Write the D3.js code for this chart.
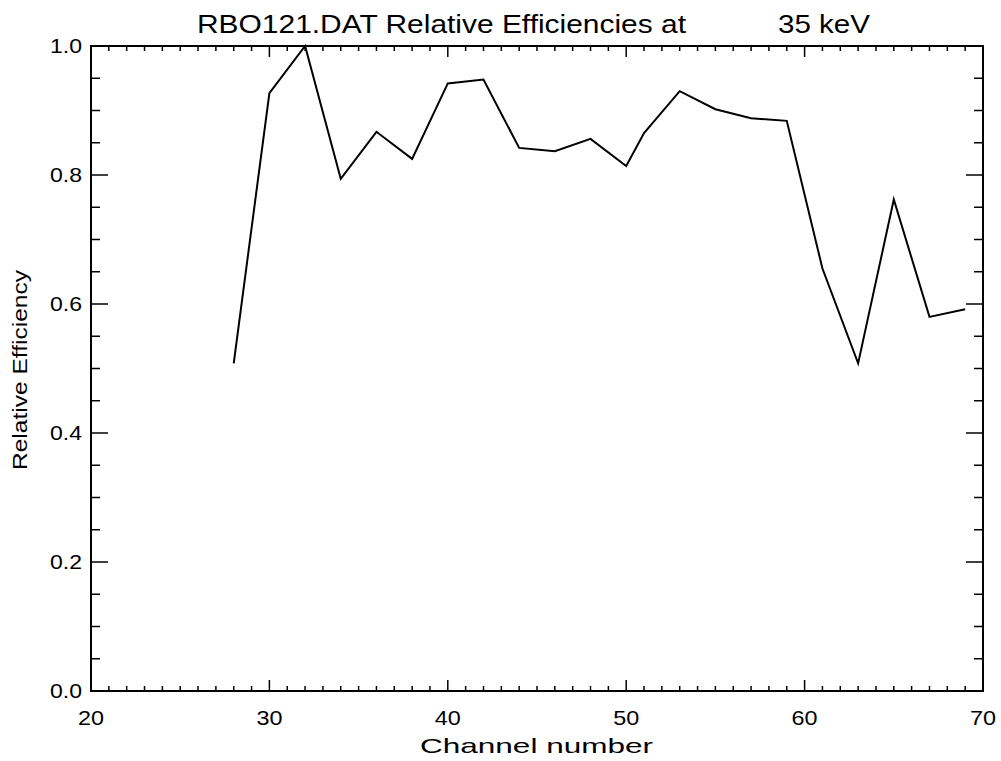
<!DOCTYPE html>
<html>
<head>
<meta charset="utf-8">
<script src="https://cdn.jsdelivr.net/npm/d3@7"></script>
<style>
  html, body { margin: 0; padding: 0; background: #fff; }
  svg { display: block; }
  text { font-family: "Liberation Sans", Arial, sans-serif; fill: #000; }
</style>
</head>
<body>
<svg id="chart" width="1001" height="761"></svg>
<script>
// Relative efficiency per detector channel at 35 keV (file RBO121.DAT)
const channels = [28, 30, 32, 34, 36, 38, 40, 42, 44, 46, 48, 50, 51, 53, 55, 57, 59, 61, 63, 65, 67, 69];
const efficiency = [0.508, 0.927, 1.0, 0.794, 0.867, 0.825, 0.942, 0.948, 0.842, 0.837, 0.856,
                    0.814, 0.865, 0.930, 0.902, 0.888, 0.884, 0.655, 0.508, 0.762, 0.580, 0.592];

const xMajorTicks = [20, 30, 40, 50, 60, 70];
const yMajorTicks = [0.0, 0.2, 0.4, 0.6, 0.8, 1.0];
const titleMain = "RBO121.DAT Relative Efficiencies at";
const titleEnergy = "35 keV";
const xLabel = "Channel number";
const yLabel = "Relative Efficiency";

const svg = d3.select("#chart");
const plot = { left: 91, right: 983, top: 46, bottom: 691 };

const x = d3.scaleLinear().domain([20, 70]).range([plot.left, plot.right]);
const y = d3.scaleLinear().domain([0, 1]).range([plot.bottom, plot.top]);

const xMinor = d3.range(20, 71, 1).filter(v => v % 10 !== 0);
const yMinor = d3.range(0, 21).map(i => i * 0.05).filter((v, i) => i % 4 !== 0);

const XMAJ = 11, XMIN = 5, YMAJ = 17, YMIN = 9;
const stroke = "#000";

// Frame
svg.append("rect")
  .attr("x", plot.left).attr("y", plot.top)
  .attr("width", plot.right - plot.left).attr("height", plot.bottom - plot.top)
  .attr("fill", "none").attr("stroke", stroke).attr("stroke-width", 2);

const ticks = svg.append("g").attr("stroke", stroke).attr("stroke-width", 1.5);

// Bottom and top ticks, pointing inward
function xTicks(vals, len) {
  vals.forEach(v => {
    ticks.append("line").attr("x1", x(v)).attr("x2", x(v))
      .attr("y1", plot.bottom).attr("y2", plot.bottom - len);
    ticks.append("line").attr("x1", x(v)).attr("x2", x(v))
      .attr("y1", plot.top).attr("y2", plot.top + len);
  });
}
// Left and right ticks, pointing inward
function yTicks(vals, len) {
  vals.forEach(v => {
    ticks.append("line").attr("y1", y(v)).attr("y2", y(v))
      .attr("x1", plot.left).attr("x2", plot.left + len);
    ticks.append("line").attr("y1", y(v)).attr("y2", y(v))
      .attr("x1", plot.right).attr("x2", plot.right - len);
  });
}
xTicks(xMajorTicks, XMAJ);
xTicks(xMinor, XMIN);
yTicks(yMajorTicks, YMAJ);
yTicks(yMinor, YMIN);

// Tick labels
svg.append("g").selectAll("text").data(xMajorTicks).join("text")
  .attr("x", d => x(d)).attr("y", plot.bottom + 34)
  .attr("text-anchor", "middle").attr("font-size", 21)
  .attr("textLength", 26).attr("lengthAdjust", "spacingAndGlyphs")
  .text(d => d3.format("d")(d));

svg.append("g").selectAll("text").data(yMajorTicks).join("text")
  .attr("x", plot.left - 9).attr("y", d => y(d) + 7)
  .attr("text-anchor", "end").attr("font-size", 20)
  .attr("textLength", 32).attr("lengthAdjust", "spacingAndGlyphs")
  .text(d => d3.format(".1f")(d));

// Axis titles
svg.append("text")
  .attr("x", 420).attr("y", 753)
  .attr("font-size", 21)
  .attr("textLength", 233).attr("lengthAdjust", "spacingAndGlyphs")
  .text(xLabel);

svg.append("text")
  .attr("transform", "translate(27, 470) rotate(-90)")
  .attr("font-size", 20)
  .attr("textLength", 200).attr("lengthAdjust", "spacingAndGlyphs")
  .text(yLabel);

// Title
svg.append("text").attr("x", 197).attr("y", 33).attr("font-size", 25)
  .attr("textLength", 489).attr("lengthAdjust", "spacingAndGlyphs")
  .text(titleMain);
svg.append("text").attr("x", 778).attr("y", 33).attr("font-size", 25)
  .attr("textLength", 92).attr("lengthAdjust", "spacingAndGlyphs")
  .text(titleEnergy);

// Efficiency curve
const line = d3.line().x((d, i) => x(channels[i])).y(d => y(d));
svg.append("path")
  .datum(efficiency)
  .attr("d", line)
  .attr("fill", "none")
  .attr("stroke", stroke)
  .attr("stroke-width", 2)
  .attr("stroke-linejoin", "miter");
</script>
</body>
</html>
